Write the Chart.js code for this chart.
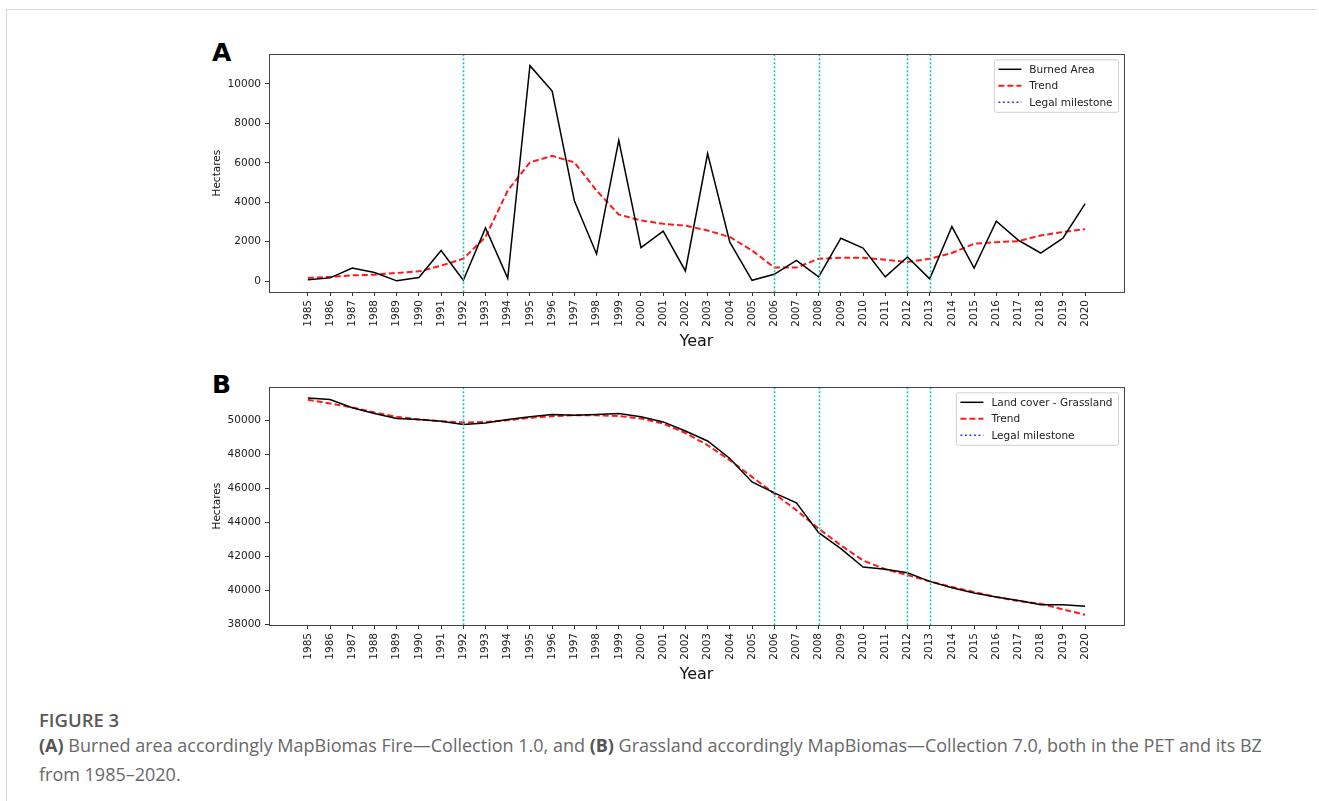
<!DOCTYPE html>
<html>
<head>
<meta charset="utf-8">
<script src="https://cdn.jsdelivr.net/npm/chart.js@4.4.1/dist/chart.umd.min.js"></script>
<style>
  body { margin: 0; background: #fff; width: 1319px; height: 801px; overflow: hidden; position: relative; }
  .card { position: absolute; left: 6px; top: 9px; width: 1310px; height: 800px; border-top: 1px solid #d6d6d6; border-left: 1px solid #d6d6d6; }
  .panel { position: absolute; left: 200px; }
  .letter { position: absolute; left: 212px; font: bold 25px "DejaVu Sans", sans-serif; color: #000; line-height: 25px; }
  .fig { position: absolute; left: 39px; top: 710px; font: 600 18.5px "Open Sans", sans-serif; color: #5a5a5a; line-height: 20px; }
  .cap { position: absolute; left: 39px; top: 731px; font: 18px "Open Sans", sans-serif; color: #686868; line-height: 29px; white-space: nowrap; }
  .cap b { color: #555; font-weight: 700; }
</style>
</head>
<body>
<div class="card"></div>
<div class="letter" style="top:40px">A</div>
<div class="letter" style="top:372px">B</div>
<canvas id="chartA" class="panel" style="top:44px" width="940" height="310"></canvas>
<canvas id="chartB" class="panel" style="top:377px" width="940" height="310"></canvas>
<div class="fig">FIGURE 3</div>
<div class="cap"><b>(A)</b> Burned area accordingly MapBiomas Fire—Collection 1.0, and <b>(B)</b> Grassland accordingly MapBiomas—Collection 7.0, both in the PET and its BZ<br>from 1985–2020.</div>
<script>
const years = [1985,1986,1987,1988,1989,1990,1991,1992,1993,1994,1995,1996,1997,1998,1999,2000,2001,2002,
  2003,2004,2005,2006,2007,2008,2009,2010,2011,2012,2013,2014,2015,2016,2017,2018,2019,2020];

const burnedArea = [80,170,670,440,20,185,1560,50,2700,150,10920,9630,4080,1380,7140,1700,2540,520,
  6470,1980,50,350,1060,220,2180,1680,220,1230,120,2770,670,3040,2070,1430,2180,3930];
const burnedTrend = [170,220,300,330,420,500,790,1140,2240,4590,6020,6350,6020,4590,3380,3080,2910,2820,
  2570,2240,1560,690,690,1140,1190,1190,1090,970,1140,1430,1900,1980,2030,2320,2490,2640];

const grassland = [51310,51220,50730,50390,50100,50040,49940,49750,49840,50040,50200,50330,50290,50330,50390,50200,49900,49370,
  48780,47750,46370,45730,45140,43390,42450,41370,41240,41040,40530,40160,39840,39610,39410,39160,39160,39060];
const grassTrend = [51200,50980,50750,50450,50200,50040,49940,49860,49900,50000,50140,50240,50290,50290,50250,50100,49800,49250,
  48530,47650,46670,45690,44710,43630,42650,41760,41240,40900,40530,40200,39900,39610,39370,39220,38880,38570];

const milestones = [1992, 2006, 2008, 2012, 2013];
const burnedTicks = [0, 2000, 4000, 6000, 8000, 10000];
const grassTicks = [38000, 40000, 42000, 44000, 46000, 48000, 50000];

const FONT = "DejaVu Sans";
const MILESTONE_COLOR = "#14c2bc";

const framePlugin = {
  id: "frame",
  afterDatasetsDraw(chart) {
    const { ctx, chartArea: a, scales } = chart;
    ctx.save();
    // milestone lines
    ctx.strokeStyle = MILESTONE_COLOR;
    ctx.lineWidth = 1.6;
    ctx.setLineDash([2, 2]);
    milestones.forEach(yr => {
      const x = Math.round(scales.x.getPixelForValue(yr)) + 0.5;
      ctx.beginPath();
      ctx.moveTo(x, a.top);
      ctx.lineTo(x, a.bottom);
      ctx.stroke();
    });
    ctx.setLineDash([]);
    // axes box
    ctx.strokeStyle = "#444";
    ctx.lineWidth = 1;
    ctx.strokeRect(Math.round(a.left) + 0.5, Math.round(a.top) + 0.5,
      Math.round(a.right - a.left), Math.round(a.bottom - a.top));
    // legend
    const items = chart.data.datasets.map(d => ({ label: d.label, color: d.borderColor, dash: d.borderDash || [], width: d.borderWidth }));
    items.push({ label: "Legal milestone", color: "#3a3ae0", dash: [2, 2.5], width: 1.6 });
    ctx.font = "10.5px '" + FONT + "'";
    const tw = Math.max(...items.map(i => ctx.measureText(i.label).width));
    const bw = 35 + tw + 6, bh = 52.5;
    const bx = a.right - 5.5 - bw, by = a.top + 5.5;
    ctx.fillStyle = "rgba(255,255,255,0.85)";
    ctx.strokeStyle = "#d0d0d0";
    ctx.lineWidth = 1;
    ctx.beginPath();
    ctx.roundRect(bx, by, bw, bh, 2);
    ctx.fill();
    ctx.stroke();
    items.forEach((it, i) => {
      const y = by + 9.5 + i * 16.5;
      ctx.strokeStyle = it.color;
      ctx.lineWidth = it.width;
      ctx.setLineDash(it.dash);
      ctx.beginPath();
      ctx.moveTo(bx + 4, y);
      ctx.lineTo(bx + 27, y);
      ctx.stroke();
      ctx.setLineDash([]);
      ctx.fillStyle = "#222";
      ctx.textBaseline = "middle";
      ctx.fillText(it.label, bx + 35, y + 0.5);
    });
    ctx.restore();
  }
};

function makeChart(id, seriesLabel, values, trend, yMin, yMax, yTicks) {
  const ctx = document.getElementById(id).getContext("2d");
  return new Chart(ctx, {
    type: "line",
    data: {
      datasets: [{
        label: seriesLabel,
        data: years.map((yr, i) => ({ x: yr, y: values[i] })),
        borderColor: "#000",
        borderWidth: 1.5,
        pointRadius: 0,
        tension: 0
      }, {
        label: "Trend",
        data: years.map((yr, i) => ({ x: yr, y: trend[i] })),
        borderColor: "#ff1a1a",
        borderWidth: 2,
        borderDash: [6, 3],
        pointRadius: 0,
        tension: 0
      }]
    },
    options: {
      responsive: false,
      devicePixelRatio: 1,
      animation: false,
      layout: { padding: { top: 10, right: 16, left: 0, bottom: 0 } },
      plugins: { legend: { display: false }, tooltip: { enabled: false } },
      scales: {
        x: {
          type: "linear",
          min: 1983.25,
          max: 2021.75,
          afterBuildTicks: s => { s.ticks = years.map(v => ({ value: v })); },
          afterFit: s => { s.height = 62; },
          grid: { display: true, drawOnChartArea: false, tickLength: 4, color: "#333" },
          border: { display: false },
          ticks: { autoSkip: false, minRotation: 90, maxRotation: 90, padding: 4, color: "#222",
            font: { family: FONT, size: 10.5 }, callback: v => String(v) },
          title: { display: true, text: "Year", color: "#111", font: { family: FONT, size: 16 }, padding: { top: 0, bottom: 3 } }
        },
        y: {
          min: yMin,
          max: yMax,
          afterBuildTicks: s => { s.ticks = yTicks.map(v => ({ value: v })); },
          afterFit: s => { s.width = 69; },
          grid: { display: true, drawOnChartArea: false, tickLength: 4, color: "#333" },
          border: { display: false },
          ticks: { padding: 4, color: "#222", font: { family: FONT, size: 10.5 }, callback: v => String(v) },
          title: { display: true, text: "Hectares", color: "#111", font: { family: FONT, size: 10.5 }, padding: { top: 11, bottom: 0 } }
        }
      }
    },
    plugins: [framePlugin]
  });
}

makeChart("chartA", "Burned Area", burnedArea, burnedTrend, -545, 11495, burnedTicks);
makeChart("chartB", "Land cover - Grassland", grassland, grassTrend, 37965, 51935, grassTicks);
</script>
</body>
</html>
